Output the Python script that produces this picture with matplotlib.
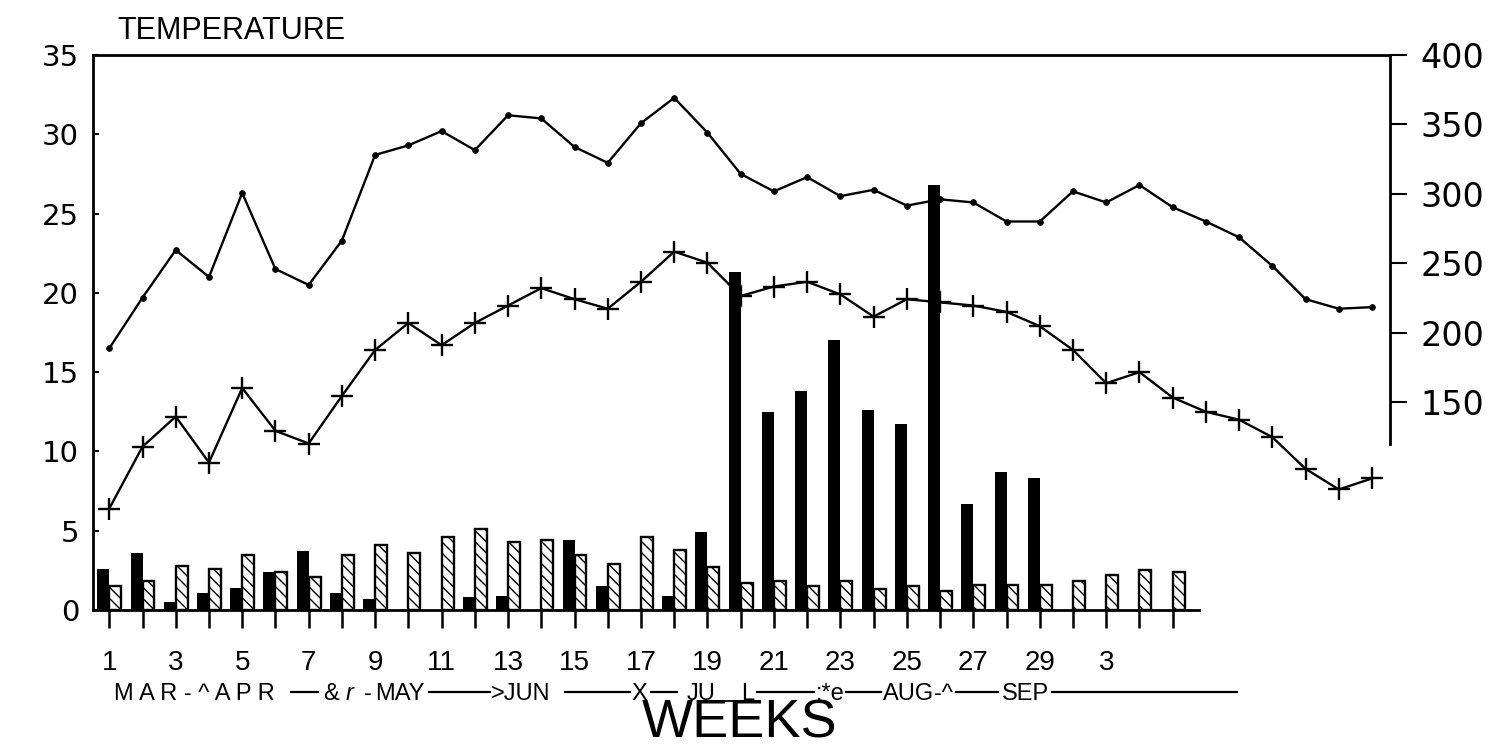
import matplotlib
matplotlib.use("Agg")
import matplotlib.pyplot as plt
from matplotlib.lines import Line2D
from matplotlib import font_manager as fm

# ---------------- data ----------------
line_weeks = list(range(1, 40))
temp_max = [16.5, 19.7, 22.7, 21.0, 26.3, 21.5, 20.5, 23.3, 28.7, 29.3,
            30.2, 29.0, 31.2, 31.0, 29.2, 28.2, 30.7, 32.3, 30.1, 27.5,
            26.4, 27.3, 26.1, 26.5, 25.5, 25.9, 25.7, 24.5, 24.5, 26.4,
            25.7, 26.8, 25.4, 24.5, 23.5, 21.7, 19.6, 19.0, 19.1]
temp_min = [6.4, 10.3, 12.2, 9.3, 14.0, 11.3, 10.5, 13.5, 16.4, 18.1,
            16.7, 18.1, 19.2, 20.3, 19.6, 19.0, 20.7, 22.6, 21.9, 19.8,
            20.4, 20.7, 19.9, 18.5, 19.6, 19.4, 19.2, 18.8, 17.9, 16.4,
            14.3, 15.0, 13.4, 12.5, 12.0, 10.9, 8.9, 7.6, 8.3]

bar_weeks = list(range(1, 34))
black_bars = [2.6, 3.6, 0.5, 1.1, 1.4, 2.4, 3.7, 1.1, 0.7, 0.0,
              0.0, 0.8, 0.9, 0.0, 4.4, 1.5, 0.0, 0.9, 4.9, 21.3,
              12.5, 13.8, 17.0, 12.6, 11.7, 26.8, 6.7, 8.7, 8.3, 0.0,
              0.0, 0.0, 0.0]
hatched_bars = [1.5, 1.8, 2.8, 2.6, 3.5, 2.4, 2.1, 3.5, 4.1, 3.6,
                4.6, 5.1, 4.3, 4.4, 3.5, 2.9, 4.6, 3.8, 2.7, 1.7,
                1.8, 1.5, 1.8, 1.3, 1.5, 1.2, 1.6, 1.6, 1.6, 1.8,
                2.2, 2.5, 2.4]

week_label_pos = [1, 3, 5, 7, 9, 11, 13, 15, 17, 19, 21, 23, 25, 27, 29, 31]
week_labels = ["1", "3", "5", "7", "9", "11", "13", "15", "17", "19",
               "21", "23", "25", "27", "29", "3"]
left_ticks = [0, 5, 10, 15, 20, 25, 30, 35]
right_ticks = [150, 200, 250, 300, 350, 400]

# month annotation pieces (text, left pixel x) and dash segments (x0, x1)
month_texts = [("M A R - ^ A P R", 114, "normal"), ("&", 323, "normal"),
               ("r", 346, "italic"), ("-", 364, "normal"),
               ("MAY", 375, "normal"), (">JUN", 491, "normal"),
               ("X", 631, "normal"), ("JU", 687, "normal"),
               ("L", 741, "normal"), (":*e", 816, "normal"),
               ("AUG", 883, "normal"), ("-^", 934, "normal"),
               ("SEP", 1002, "normal")]
month_dashes = [(291, 318), (429, 490), (565, 630), (651, 677), (757, 814),
                (846, 881), (956, 998), (1052, 1237)]

# ---------------- figure ----------------
W, H = 1508, 747
fig = plt.figure(figsize=(W / 100, H / 100), dpi=100)
fig.patch.set_facecolor("white")


def fx(px):
    return px / W


def fy(py):
    return 1 - py / H


ax = fig.add_axes([fx(93), fy(610), fx(1390) - fx(93), fy(55) - fy(610)])
ax.set_xlim(0.51, 39.54)
ax.set_ylim(0, 35)

bw = 0.36
ax.bar(bar_weeks, black_bars, width=-bw, align="edge", color="black",
       linewidth=0, zorder=3)
ax.bar(bar_weeks, hatched_bars, width=bw, align="edge", color="white",
       edgecolor="black", hatch="\\\\\\", linewidth=1.7, zorder=3)

ax.plot(line_weeks, temp_max, color="black", lw=1.7, marker="o",
        markersize=3.8, zorder=2)
ax.plot(line_weeks, temp_min, color="black", lw=1.7, marker="+",
        markersize=16, markeredgewidth=1.7, zorder=2)

# spines
for s in ["left", "top", "bottom"]:
    ax.spines[s].set_linewidth(2)
ax.spines["right"].set_visible(False)
ax.spines["bottom"].set_bounds(0.51, 33.8)

# left axis
ax.set_yticks(left_ticks)
ax.set_yticklabels([str(v) for v in left_ticks], fontsize=21,
                   family="DejaVu Sans")
ax.tick_params(axis="y", direction="in", length=4, width=1.5, pad=10)

# bottom axis: tick marks every week, labels on odd weeks
ax.set_xticks(bar_weeks, minor=True)
ax.set_xticks(week_label_pos)
ax.set_xticklabels(week_labels, fontsize=20, family="Liberation Sans")
ax.tick_params(axis="x", which="minor", direction="out", length=13, width=1.8)
ax.tick_params(axis="x", which="major", direction="out", length=13, width=1.8,
               pad=16)

# right axis
ax2 = ax.twinx()
ax2.set_ylim(0, 400)
ax2.set_yticks(right_ticks)
ax2.set_yticklabels([str(v) for v in right_ticks], fontsize=24,
                    family="DejaVu Sans")
for s in ["left", "top", "bottom"]:
    ax2.spines[s].set_visible(False)
ax2.spines["right"].set_linewidth(2)
ax2.spines["right"].set_bounds(120, 400)
ax2.tick_params(axis="y", direction="out", length=12, width=1.5, pad=10)

# title
fig.text(fx(117), fy(31), "TEMPERATURE", fontsize=22, family="Liberation Sans",
         va="center", ha="left")

# month line
ty = fy(694)
mfs = 17
for txt, xpx, sty in month_texts:
    fig.text(fx(xpx), ty, txt, fontsize=mfs, family="Liberation Sans",
             style=sty, va="center", ha="left")
for x0, x1 in month_dashes:
    fig.add_artist(Line2D([fx(x0), fx(x1)], [fy(692), fy(692)],
                          color="black", lw=1.6))
fig.add_artist(Line2D([fx(714), fx(740)], [fy(701), fy(701)], color="black",
                      lw=1.3))

# axis title (narrow face if present)
names = {f.name for f in fm.fontManager.ttflist}
if "Liberation Sans Narrow" in names:
    wfam, wsize = "Liberation Sans Narrow", 46
else:
    wfam, wsize = "Liberation Sans", 39
fig.text(fx(740), fy(737), "WEEKS", fontsize=wsize, family=wfam,
         va="baseline", ha="center")

fig.savefig("out.png", dpi=100, facecolor="white")
